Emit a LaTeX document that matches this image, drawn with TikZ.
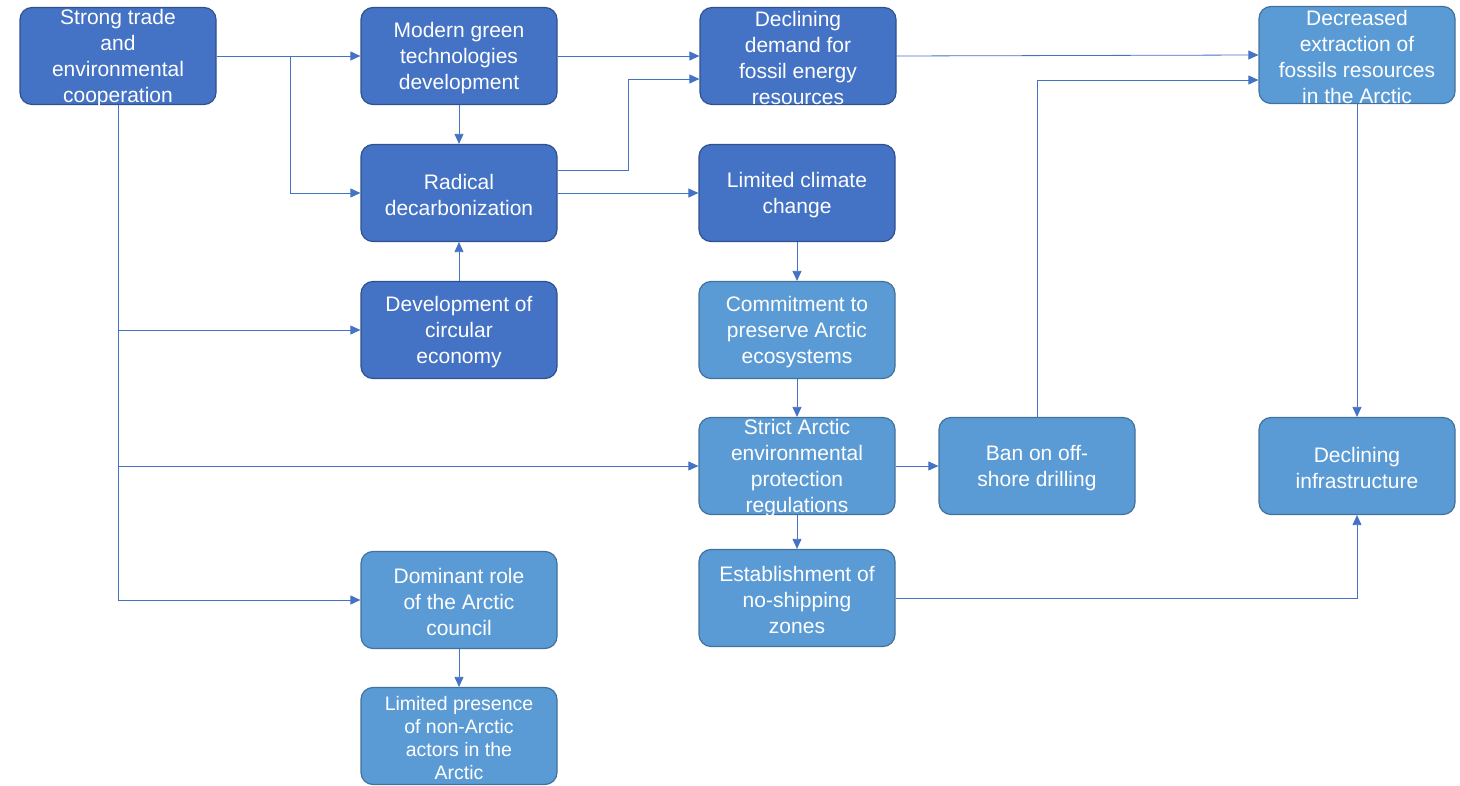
\documentclass[tikz,border=0pt]{standalone}
\usepackage{fontspec}
\setmainfont{Liberation Sans}
\usetikzlibrary{arrows.meta,calc}
\definecolor{darkfill}{HTML}{4472C4}
\definecolor{darkedge}{HTML}{2F528F}
\definecolor{lightfill}{HTML}{5B9BD5}
\definecolor{lightedge}{HTML}{41719C}
\definecolor{linkc}{HTML}{4472C4}
\tikzset{
  box/.style={rectangle, rounded corners=12pt, minimum width=196pt, minimum height=97pt,
    inner sep=0pt, line width=1.2pt},
  dark/.style={box, fill=darkfill, draw=darkedge},
  light/.style={box, fill=lightfill, draw=lightedge},
  txt/.style={text=white, align=center, inner sep=0pt, yshift=-2pt,
    font=\fontsize{21}{26}\selectfont},
  smalltxt/.style={txt, font=\fontsize{19.5}{23.3}\selectfont},
  conn/.style={draw=linkc, line width=0.8pt, -{Triangle[length=10pt,width=9pt]}},
}
\begin{document}
\begin{tikzpicture}[x=1pt,y=-1pt]
\useasboundingbox (0,0) rectangle (1460,786);

% boxes
\node[dark, label={[txt]center:Strong trade\\and\\environmental\\cooperation}] (strong) at (118,56) {};
\node[dark, label={[txt]center:Modern green\\technologies\\development}] (modern) at (459,56) {};
\node[dark, label={[txt]center:Declining\\demand for\\fossil energy\\resources}] (demand) at (798,56) {};
\node[light, label={[txt]center:Decreased\\extraction of\\fossils resources\\in the Arctic}] (extract) at (1357,55) {};
\node[dark, label={[txt]center:Radical\\decarbonization}] (radical) at (459,193) {};
\node[dark, label={[txt]center:Limited climate\\change}] (climate) at (797,193) {};
\node[dark, label={[txt]center:Development of\\circular\\economy}] (circular) at (459,330) {};
\node[light, label={[txt]center:Commitment to\\preserve Arctic\\ecosystems}] (commit) at (797,330) {};
\node[light, label={[txt]center:Strict Arctic\\environmental\\protection\\regulations}] (strict) at (797,466) {};
\node[light, label={[txt]center:Ban on off-\\shore drilling}] (ban) at (1037,466) {};
\node[light, label={[txt]center:Declining\\infrastructure}] (infra) at (1357,466) {};
\node[light, label={[txt]center:Dominant role\\of the Arctic\\council}] (council) at (459,600) {};
\node[light, label={[txt]center:Establishment of\\no-shipping\\zones}] (zones) at (797,598) {};
\node[light, label={[smalltxt]center:Limited presence\\of non-Arctic\\actors in the\\Arctic}] (presence) at (459,736) {};

% junction points of the branching connectors
\coordinate (split) at ($(strong.east)!0.51!(modern.west)$);
\coordinate (radout) at ([yshift=23pt]radical.east);
\coordinate (demin) at ([yshift=-23pt]demand.west);
\coordinate (extin) at ([yshift=-25pt]extract.west);

% connectors
\draw[conn] (strong.east) -- (modern.west);
\draw[conn] (split) |- (radical.west);
\draw[conn] (strong.south) |- (council.west);
\draw[conn] (strong.south |- circular.west) -- (circular.west);
\draw[conn] (strong.south |- strict.west) -- (strict.west);
\draw[conn] (modern.south) -- (radical.north);
\draw[conn] (modern.east) -- (demand.west);
\draw[conn] (radout) -| ($(radout)!0.5!(demin)$) |- (demin);
\draw[conn] (radical.east) -- (climate.west);
\draw[conn] (circular.north) -- (radical.south);
\draw[conn] (demand.east) -- (extract.west);
\draw[conn] (ban.north) |- (extin);
\draw[conn] (extract.south) -- (infra.north);
\draw[conn] (climate.south) -- (commit.north);
\draw[conn] (commit.south) -- (strict.north);
\draw[conn] (strict.east) -- (ban.west);
\draw[conn] (strict.south) -- (zones.north);
\draw[conn] (zones.east) -| (infra.south);
\draw[conn] (council.south) -- (presence.north);
\end{tikzpicture}
\end{document}
